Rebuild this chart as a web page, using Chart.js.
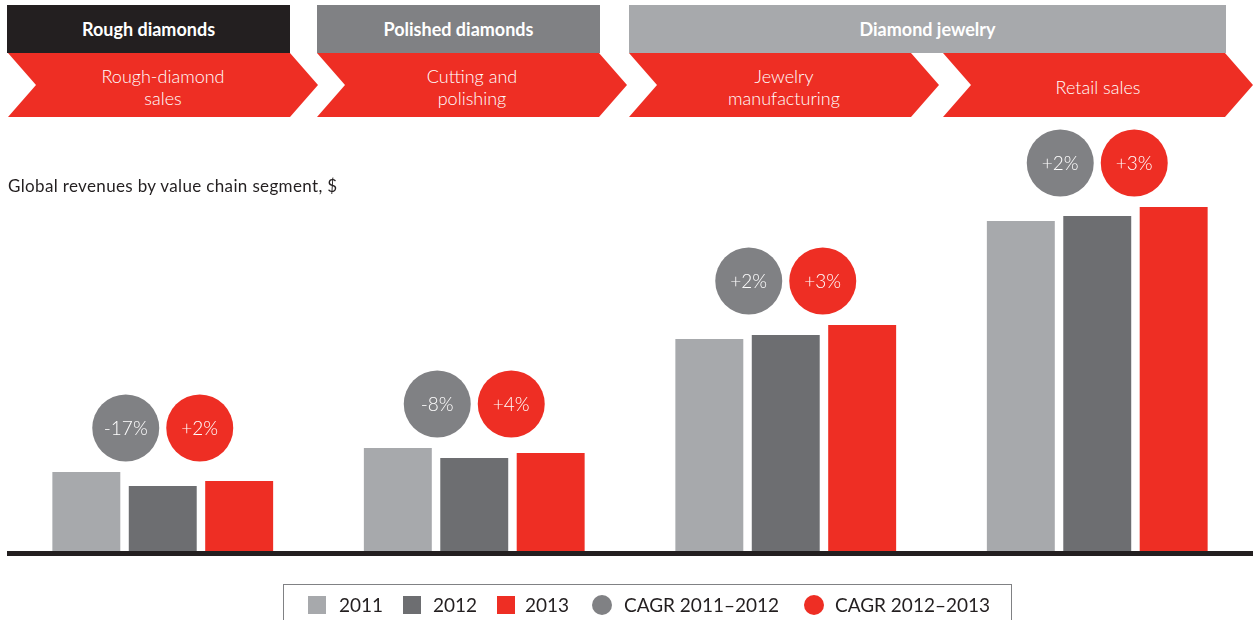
<!DOCTYPE html>
<html>
<head>
<meta charset="utf-8">
<script src="https://cdn.jsdelivr.net/npm/chart.js@4.4.1/dist/chart.umd.min.js"></script>
<style>
  html, body { margin: 0; padding: 0; background: #fff; }
  body { width: 1253px; height: 620px; position: relative; overflow: hidden; font-family: Lato, 'Open Sans', sans-serif; color: #231f20; }
  #chart-wrap { position: absolute; left: 0; top: 0; width: 1253px; height: 620px; }
  .stage { position: absolute; top: 5px; height: 48px; color: #fff; font-weight: 700; font-size: 18px;
           display: flex; align-items: center; justify-content: center; }
  .chevron { position: absolute; top: 53px; height: 64px; background: #ee2e24; color: #fff; font-size: 18px; font-weight: 300;
             line-height: 22px; display: flex; align-items: center; justify-content: center; text-align: center;
             box-sizing: border-box; padding-top: 3px; }
  #subtitle { position: absolute; left: 8px; top: 175px; font-size: 17px; letter-spacing: 0.35px; }
  #legend { position: absolute; left: 283px; top: 584px; width: 729px; height: 50px; border: 1.5px solid #808184; box-sizing: border-box; }
  .lg-item { position: absolute; top: 9px; height: 22px; font-size: 19px; line-height: 22px; }
  .lg-mark { position: absolute; }
</style>
</head>
<body>
<div id="chart-wrap"><canvas id="chart"></canvas></div>
<div id="header"></div>
<div id="subtitle">Global revenues by value chain segment, $</div>
<div id="legend"></div>

<script>
'use strict';

// ── Data ─────────────────────────────────────────────────────────
const categories     = [['Rough-diamond', 'sales'], ['Cutting and', 'polishing'], ['Jewelry', 'manufacturing'], ['Retail sales']];
const stageLabels    = ['Rough diamonds', 'Polished diamonds', 'Diamond jewelry'];
const years          = ['2011', '2012', '2013'];
const revenue2011    = [79, 103, 212, 330];
const revenue2012    = [65, 93, 216, 335];
const revenue2013    = [70, 98, 226, 344];
const cagr2011to2012 = ['-17%', '-8%', '+2%', '+2%'];
const cagr2012to2013 = ['+2%', '+4%', '+3%', '+3%'];
const cagrLabels     = ['CAGR 2011–2012', 'CAGR 2012–2013'];

// ── Styles ───────────────────────────────────────────────────────
const RED       = '#ee2e24';
const BLACK     = '#231f20';
const GREY_MID  = '#808184';
const BAR_COLORS = ['#a7a9ac', '#6d6e71', RED];
const CIRCLE_COLORS = [GREY_MID, RED];

// ── Header bands and chevrons ────────────────────────────────────
(function buildHeader() {
  const header = document.getElementById('header');
  const stageBoxes = [
    { left: 7,   width: 283, bg: BLACK },
    { left: 317, width: 283, bg: GREY_MID },
    { left: 629, width: 597, bg: '#a7a9ac' },
  ];
  stageLabels.forEach((label, i) => {
    const el = document.createElement('div');
    el.className = 'stage';
    el.style.left = stageBoxes[i].left + 'px';
    el.style.width = stageBoxes[i].width + 'px';
    el.style.background = stageBoxes[i].bg;
    el.textContent = label;
    header.appendChild(el);
  });

  const chevLeft = [8, 317, 629, 943];
  const bodyW = 282, depth = 28;
  categories.forEach((lines, i) => {
    const el = document.createElement('div');
    el.className = 'chevron';
    const w = bodyW + depth;
    el.style.left = chevLeft[i] + 'px';
    el.style.width = w + 'px';
    el.style.clipPath = `polygon(0 0, ${bodyW}px 0, ${w}px 50%, ${bodyW}px 100%, 0 100%, ${depth}px 50%)`;
    el.innerHTML = lines.join('<br>');
    header.appendChild(el);
  });
})();

// ── Legend ───────────────────────────────────────────────────────
(function buildLegend() {
  const legend = document.getElementById('legend');
  const ox = 283, oy = 584;
  const squares = [307, 402, 496];
  const squareText = [338, 432, 524];
  years.forEach((y, i) => {
    const m = document.createElement('div');
    m.className = 'lg-mark';
    Object.assign(m.style, { left: (squares[i] - ox) + 'px', top: (595 - oy) + 'px', width: '18px', height: '18px', background: BAR_COLORS[i] });
    legend.appendChild(m);
    const t = document.createElement('div');
    t.className = 'lg-item';
    t.style.left = (squareText[i] - ox) + 'px';
    t.textContent = y;
    legend.appendChild(t);
  });
  const dots = [601, 813];
  const dotText = [623, 834];
  cagrLabels.forEach((label, i) => {
    const m = document.createElement('div');
    m.className = 'lg-mark';
    Object.assign(m.style, { left: (dots[i] - 10 - ox) + 'px', top: (594 - oy) + 'px', width: '20px', height: '20px', borderRadius: '50%', background: CIRCLE_COLORS[i] });
    legend.appendChild(m);
    const t = document.createElement('div');
    t.className = 'lg-item';
    t.style.left = (dotText[i] - ox) + 'px';
    t.textContent = label;
    legend.appendChild(t);
  });
})();

// ── Plugins ──────────────────────────────────────────────────────
const baselinePlugin = {
  id: 'baseline',
  afterDatasetsDraw(chart) {
    const { ctx, chartArea } = chart;
    ctx.save();
    ctx.fillStyle = BLACK;
    ctx.fillRect(chartArea.left, chartArea.bottom, chartArea.right - chartArea.left, 5);
    ctx.restore();
  },
};

const cagrBubblesPlugin = {
  id: 'cagrBubbles',
  afterDatasetsDraw(chart) {
    const { ctx, scales: { x, y } } = chart;
    const radius = 33.5, offset = 37, lift = 44;
    ctx.save();
    ctx.textAlign = 'center';
    ctx.textBaseline = 'middle';
    ctx.font = '300 19px Lato, "Open Sans", sans-serif';
    categories.forEach((_, i) => {
      const top = y.getPixelForValue(Math.max(revenue2011[i], revenue2012[i], revenue2013[i]));
      const cy = top - lift;
      const cx = x.getPixelForValue(i);
      [cagr2011to2012[i], cagr2012to2013[i]].forEach((label, k) => {
        const px = cx + (k === 0 ? -offset : offset);
        ctx.beginPath();
        ctx.arc(px, cy, radius, 0, Math.PI * 2);
        ctx.fillStyle = CIRCLE_COLORS[k];
        ctx.fill();
        ctx.fillStyle = '#fff';
        ctx.fillText(label, px, cy + 1);
      });
    });
    ctx.restore();
  },
};

// ── Chart ────────────────────────────────────────────────────────
const seriesValues = [revenue2011, revenue2012, revenue2013];

new Chart(document.getElementById('chart').getContext('2d'), {
  type: 'bar',
  data: {
    labels: categories,
    datasets: years.map((year, i) => ({
      label: year,
      data: seriesValues[i],
      backgroundColor: BAR_COLORS[i],
      borderWidth: 0,
      categoryPercentage: 0.736,
      barPercentage: 0.889,
    })),
  },
  options: {
    responsive: true,
    maintainAspectRatio: false,
    animation: false,
    layout: { padding: { left: 7, right: 0, top: 151, bottom: 69 } },
    plugins: { legend: { display: false }, tooltip: { enabled: false } },
    scales: {
      x: { display: false },
      y: { display: false, min: 0, max: 400 },
    },
  },
  plugins: [baselinePlugin, cagrBubblesPlugin],
});
</script>
</body>
</html>
